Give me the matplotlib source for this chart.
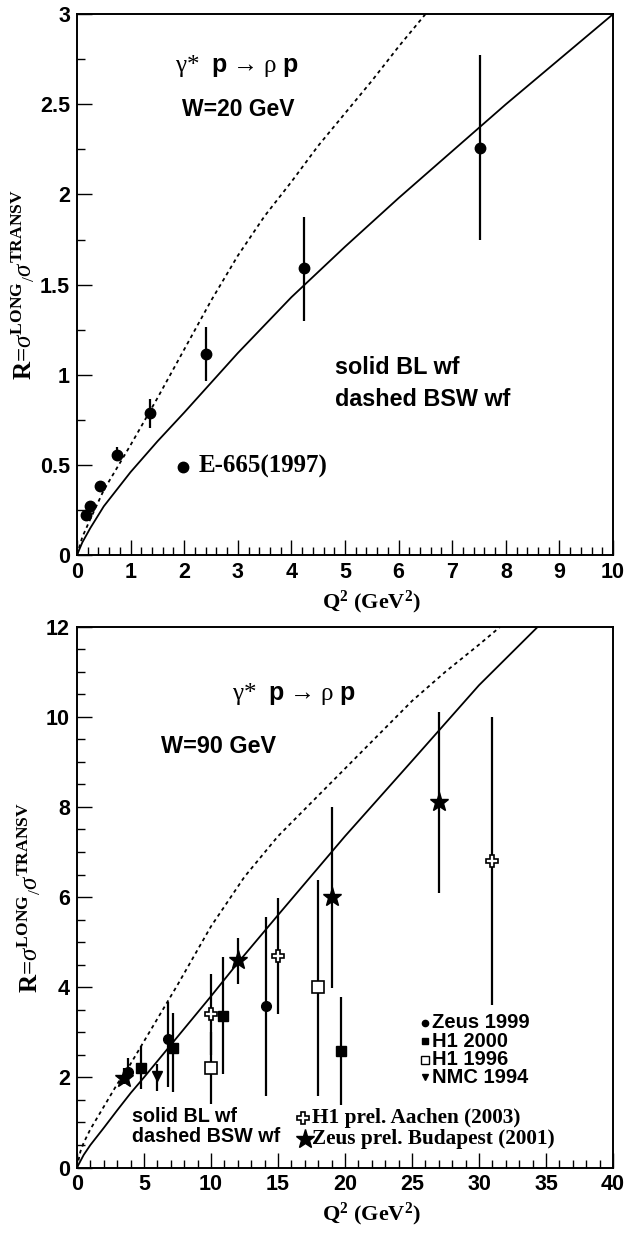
import numpy as np
import matplotlib.pyplot as plt
from matplotlib.ticker import MultipleLocator, FuncFormatter

plt.rcParams['mathtext.fontset'] = 'custom'
plt.rcParams['mathtext.rm'] = 'Liberation Serif'
plt.rcParams['mathtext.it'] = 'Liberation Serif:italic'
plt.rcParams['mathtext.bf'] = 'Liberation Serif:bold'
plt.rcParams['mathtext.sf'] = 'Liberation Sans:bold'

# ---- W = 20 GeV (E-665) ----
e665_q2 = [0.17, 0.24, 0.43, 0.74, 1.36, 2.40, 4.24, 7.52]
e665_r = [0.22, 0.27, 0.38, 0.555, 0.79, 1.117, 1.59, 2.26]
e665_lo = [0.22, 0.27, 0.38, 0.52, 0.706, 0.964, 1.297, 1.75]
e665_hi = [0.22, 0.27, 0.38, 0.60, 0.866, 1.265, 1.877, 2.773]

bl20_q2 = [0, 0.1, 0.25, 0.5, 1, 1.5, 2, 3, 4, 5, 6, 7, 8, 9, 10]
bl20_r = [0, 0.07, 0.15, 0.27, 0.46, 0.63, 0.79, 1.12, 1.43, 1.71, 1.98, 2.24, 2.50, 2.75, 3.0]
bsw20_q2 = [0, 0.1, 0.25, 0.5, 1, 1.5, 2, 2.5, 3, 3.5, 4, 4.5, 5, 5.5, 6, 6.5]
bsw20_r = [0, 0.1, 0.2, 0.36, 0.61, 0.87, 1.14, 1.41, 1.66, 1.88, 2.07, 2.27, 2.45, 2.63, 2.82, 3.0]

# ---- W = 90 GeV ----
zeus99_q2 = [3.78, 6.8, 14.1]
zeus99_r = [2.13, 2.86, 3.58]
zeus99_lo = [1.82, 1.78, 1.58]
zeus99_hi = [2.43, 3.67, 5.56]

h1_00_q2 = [4.8, 7.2, 10.9, 19.7]
h1_00_r = [2.21, 2.66, 3.37, 2.59]
h1_00_lo = [1.75, 1.67, 2.07, 1.39]
h1_00_hi = [2.69, 3.43, 4.67, 3.79]

h1_96_q2 = [10.0, 18.0]
h1_96_r = [2.2, 4.0]
h1_96_lo = [1.41, 1.58]
h1_96_hi = [3.0, 6.38]

nmc_q2 = [6.0]
nmc_r = [2.02]
nmc_lo = [1.69]
nmc_hi = [2.29]

h1prel_q2 = [10.0, 15.0, 31.0]
h1prel_r = [3.41, 4.69, 6.8]
h1prel_lo = [2.5, 3.4, 3.6]
h1prel_hi = [4.3, 5.99, 10.0]

zeusprel_q2 = [3.5, 12.0, 19.0, 27.0]
zeusprel_r = [1.99, 4.6, 6.0, 8.1]
zeusprel_lo = [1.85, 4.08, 3.99, 6.1]
zeusprel_hi = [2.2, 5.09, 7.99, 10.1]

bl90_q2 = [0, 0.5, 1, 2, 3, 4, 5, 7.5, 10, 12, 15, 20, 25, 30, 34.4]
bl90_r = [0, 0.28, 0.5, 0.88, 1.27, 1.65, 2.0, 2.9, 3.8, 4.54, 5.6, 7.35, 9.02, 10.7, 12.0]
bsw90_q2 = [0, 0.25, 0.5, 1, 2, 3, 4, 5, 6, 7.5, 10, 12.5, 15, 17.5, 20, 22.5, 25, 27.5, 30, 31.6]
bsw90_r = [0, 0.35, 0.55, 0.85, 1.35, 1.85, 2.3, 2.8, 3.3, 4.05, 5.35, 6.45, 7.35, 8.1, 8.85, 9.6, 10.35, 11.0, 11.6, 12.0]

ylab = r'R=$\sigma^{\mathbf{LONG}}{}_{/}\sigma^{\mathbf{TRANSV}}$'
xlab = r'Q$^{\mathbf{2}}$ (GeV$^{\mathbf{2}}$)'
reac = r'γ*  $\mathsf{p}$ → ρ $\mathsf{p}$'


def fmt(v, pos):
    return ('%g' % v)


def style_axes(ax, xmaj, xmin, ymaj, ymin):
    for s in ax.spines.values():
        s.set_linewidth(1.4)
    ax.xaxis.set_major_locator(MultipleLocator(xmaj))
    ax.xaxis.set_minor_locator(MultipleLocator(xmin))
    ax.yaxis.set_major_locator(MultipleLocator(ymaj))
    ax.yaxis.set_minor_locator(MultipleLocator(ymin))
    ax.xaxis.set_major_formatter(FuncFormatter(fmt))
    ax.yaxis.set_major_formatter(FuncFormatter(fmt))
    ax.tick_params(which='both', direction='in', top=False, right=False, width=1.0)
    ax.tick_params(which='major', length=11, pad=5)
    ax.tick_params(which='minor', length=5.5)
    for lab in ax.get_xticklabels() + ax.get_yticklabels():
        lab.set_family('Liberation Sans')
        lab.set_weight('bold')
        lab.set_fontsize(15.5)
    ax.set_ylabel(ylab, family='Liberation Serif', weight='bold', fontsize=18, labelpad=2)
    ax.set_xlabel(xlab, family='Liberation Serif', weight='bold', fontsize=16)
    ax.xaxis.set_label_coords(0.55, -0.062)


def errpts(ax, q2, r, lo, hi, **kw):
    r = np.array(r)
    yerr = [r - np.array(lo), np.array(hi) - r]
    ax.errorbar(q2, r, yerr=yerr, fmt='none', ecolor='black', elinewidth=1.6, capsize=0, zorder=2)
    ax.plot(q2, r, linestyle='none', zorder=3, **kw)


fig = plt.figure(figsize=(6.29, 12.33), dpi=100)
ax1 = fig.add_axes([0.1224, 0.5499, 0.8522, 0.4386])
ax2 = fig.add_axes([0.1224, 0.0531, 0.8522, 0.4387])

# top panel
ax1.plot(bl20_q2, bl20_r, color='black', lw=1.3)
ax1.plot(bsw20_q2, bsw20_r, color='black', lw=1.3, dashes=(2, 2))
errpts(ax1, e665_q2, e665_r, e665_lo, e665_hi, marker='o', ms=7.5, color='black')
ax1.plot([1.98], [0.49], marker='o', ms=7.5, color='black', linestyle='none')
ax1.text(2.27, 0.49, 'E-665(1997)', family='Liberation Serif', weight='bold', fontsize=18, va='center')
ax1.text(1.83, 2.71, reac, family='Liberation Serif', fontsize=18, va='center')
ax1.text(1.96, 2.47, 'W=20 GeV', family='Liberation Sans', weight='bold', fontsize=16.5, va='center')
ax1.text(4.81, 1.04, 'solid BL wf', family='Liberation Sans', weight='bold', fontsize=16.8, va='center')
ax1.text(4.81, 0.86, 'dashed BSW wf', family='Liberation Sans', weight='bold', fontsize=16.8, va='center')
ax1.set_xlim(0, 10)
ax1.set_ylim(0, 3)
style_axes(ax1, 1, 0.2, 0.5, 0.25)

# bottom panel
ax2.plot(bl90_q2, bl90_r, color='black', lw=1.3)
ax2.plot(bsw90_q2, bsw90_r, color='black', lw=1.3, dashes=(2, 2))
errpts(ax2, zeus99_q2, zeus99_r, zeus99_lo, zeus99_hi, marker='o', ms=7, color='black')
errpts(ax2, h1_00_q2, h1_00_r, h1_00_lo, h1_00_hi, marker='s', ms=7, color='black')
errpts(ax2, nmc_q2, nmc_r, nmc_lo, nmc_hi, marker='v', ms=7, color='black')
errpts(ax2, h1prel_q2, h1prel_r, h1prel_lo, h1prel_hi, marker='P', ms=8,
       markerfacecolor='white', markeredgecolor='black', markeredgewidth=1.2)
errpts(ax2, h1_96_q2, h1_96_r, h1_96_lo, h1_96_hi, marker='s', ms=8,
       markerfacecolor='white', markeredgecolor='black', markeredgewidth=1.2)
errpts(ax2, zeusprel_q2, zeusprel_r, zeusprel_lo, zeusprel_hi, marker='*', ms=14, color='black')

ax2.text(11.6, 10.5, reac, family='Liberation Serif', fontsize=18, va='center')
ax2.text(6.3, 9.34, 'W=90 GeV', family='Liberation Sans', weight='bold', fontsize=16.8, va='center')
ax2.text(4.1, 1.14, 'solid BL wf', family='Liberation Sans', weight='bold', fontsize=14.2, va='center')
ax2.text(4.1, 0.69, 'dashed BSW wf', family='Liberation Sans', weight='bold', fontsize=14.2, va='center')

# legend
leg_names = ['Zeus 1999', 'H1 2000', 'H1 1996', 'NMC 1994']
leg_y = [3.21, 2.80, 2.39, 2.0]
leg_kw = [dict(marker='o', ms=4.5, color='black'),
          dict(marker='s', ms=4.5, color='black'),
          dict(marker='s', ms=5.5, markerfacecolor='white', markeredgecolor='black', markeredgewidth=1),
          dict(marker='v', ms=4.5, color='black')]
for name, yy, kw in zip(leg_names, leg_y, leg_kw):
    ax2.plot([26.0], [yy], linestyle='none', **kw)
    ax2.text(26.5, yy, name, family='Liberation Sans', weight='bold', fontsize=14.5, va='center')
ax2.plot([16.9], [1.09], linestyle='none', marker='P', ms=8,
         markerfacecolor='white', markeredgecolor='black', markeredgewidth=1.2)
ax2.text(17.5, 1.09, 'H1 prel. Aachen (2003)', family='Liberation Serif', weight='bold', fontsize=15.3, va='center')
ax2.plot([17.0], [0.64], linestyle='none', marker='*', ms=14, color='black')
ax2.text(17.5, 0.64, 'Zeus prel. Budapest (2001)', family='Liberation Serif', weight='bold', fontsize=15.3, va='center')

ax2.set_xlim(0, 40)
ax2.set_ylim(0, 12)
style_axes(ax2, 5, 1, 2, 0.5)

fig.savefig('out.png', dpi=100)
